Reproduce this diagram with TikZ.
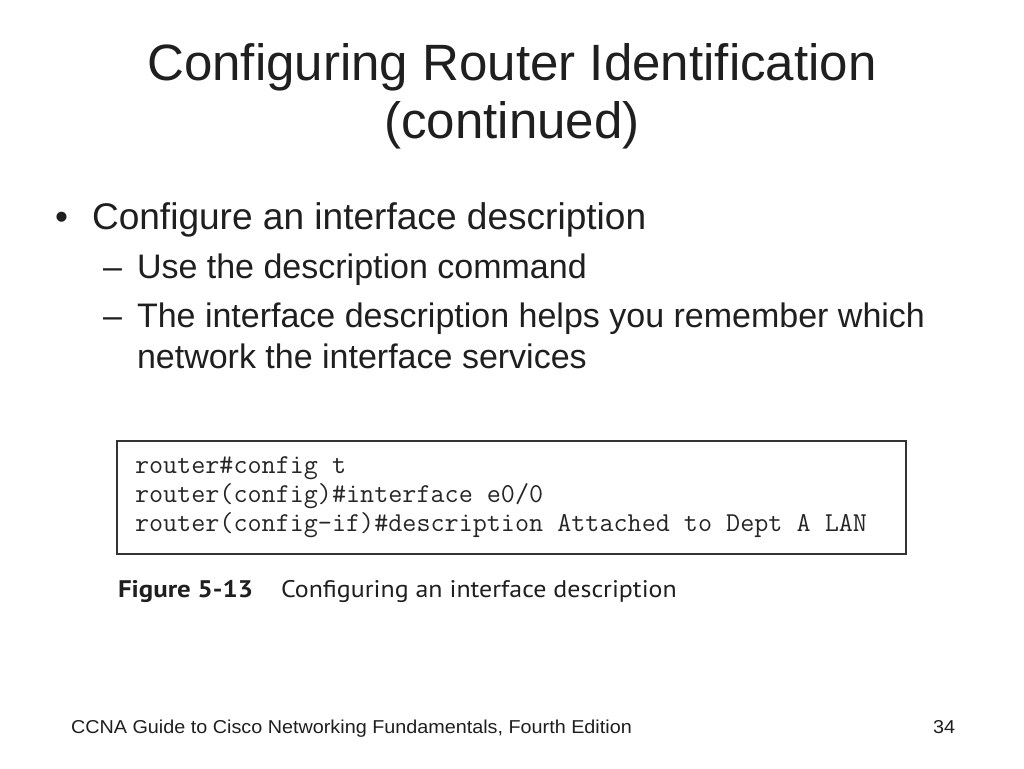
\documentclass[tikz,border=0pt]{standalone}
\usepackage{fontspec}
\setmainfont{Liberation Sans}
\newfontfamily\capfont[FakeStretch=1.08]{PT Sans}
\newfontfamily\capbold[FakeStretch=1.12]{PT Sans Bold}
\newfontfamily\footfont[FakeStretch=1.06]{Liberation Sans}
\begin{document}
\begin{tikzpicture}[x=0.75pt,y=-0.75pt,
  txt/.style={inner sep=0pt,outer sep=0pt,text=black!88},
  titletext/.style={txt,anchor=base,font=\fontsize{38.3}{42}\selectfont},
  lvlone/.style={txt,anchor=base west,font=\fontsize{27.8}{32}\selectfont},
  lvltwo/.style={txt,anchor=base west,font=\fontsize{25.5}{29}\selectfont},
  codeline/.style={txt,anchor=base west,text=black!85,font=\ttfamily\fontsize{20.5}{24}\selectfont},
  codebox/.style={draw=black!80,line width=1.3pt},
  captext/.style={txt,anchor=base west,font=\capfont\fontsize{18}{22}\selectfont},
  capbolded/.style={txt,anchor=base west,font=\capbold\fontsize{18}{22}\selectfont},
  foot/.style={txt,anchor=base west,font=\footfont\fontsize{14}{17}\selectfont}]
\fill[white] (0,0) rectangle (1024,768);
\useasboundingbox (0,0) rectangle (1024,768);
% title
\node[titletext] (t1) at (512,80) {Configuring Router Identification};
\node[titletext] (t2) at (512,138) {(continued)};
% bullets
\node[lvlone] (b1m) at (55,229) {•};
\node[lvlone] (b1) at (92,229) {Configure an interface description};
\node[lvltwo] (b2m) at (103,278) {–};
\node[lvltwo] (b2) at (137,278) {Use the description command};
\node[lvltwo] (b3m) at (103,327) {–};
\node[lvltwo] (b3) at (137,327) {The interface description helps you remember which};
\node[lvltwo] (b4) at (137,368) {network the interface services};
% code box
\draw[codebox] (117,441) rectangle (906,554);
\node[codeline] (c1) at (135,473) {router\#config t};
\node[codeline] (c2) at (135,502) {router(config)\#interface e0/0};
\node[codeline] (c3) at (135,531) {router(config-if)\#description Attached to Dept A LAN};
% caption
\node[capbolded] (f1) at (118,597) {Figure 5-13};
\node[captext] (f2) at (281,597) {Configuring an interface description};
% footer
\node[foot] (ft) at (71,733) {CCNA Guide to Cisco Networking Fundamentals, Fourth Edition};
\node[foot] (pg) at (933,733) {34};
\end{tikzpicture}
\end{document}
